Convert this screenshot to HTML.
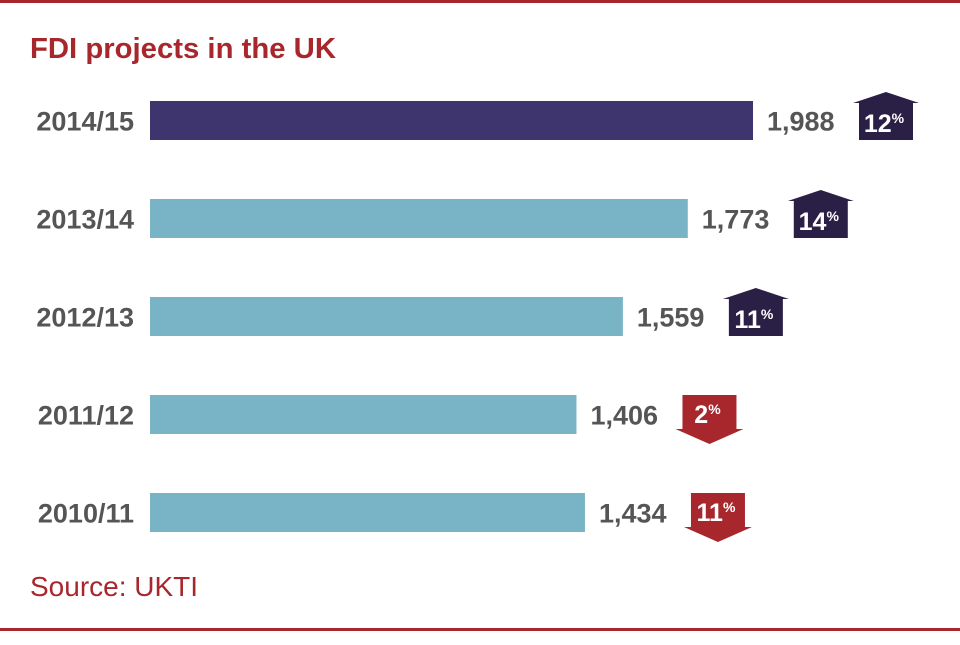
<!DOCTYPE html>
<html><head><meta charset="utf-8"><style>
html,body{margin:0;padding:0;background:#fff;}
body{width:960px;height:640px;overflow:hidden;font-family:"Liberation Sans",sans-serif;}
</style></head><body>
<svg id="chart" width="960" height="640" xmlns="http://www.w3.org/2000/svg">
<rect x="0" y="0" width="960" height="3" fill="#a8272d"/>
<rect x="0" y="628" width="960" height="3" fill="#a8272d"/>
<text x="30" y="58" font-size="29" font-weight="bold" fill="#a8272d" textLength="306" lengthAdjust="spacingAndGlyphs">FDI projects in the UK</text>
<text x="30" y="596" font-size="28" fill="#a8272d">Source: UKTI</text>
<g id="bars"></g>
</svg>
<script>
const categories = ["2014/15","2013/14","2012/13","2011/12","2010/11"];
const values = [1988,1773,1559,1406,1434];
const valueLabels = ["1,988","1,773","1,559","1,406","1,434"];
const changes = [12,14,11,2,11];
const directions = ["up","up","up","down","down"];

const x0 = 150, scale = 603/1988;
const xs = v => x0 + v*scale;
const yTop = i => 101 + i*98;
const barH = 39;
const NS = "http://www.w3.org/2000/svg";
const g = document.getElementById("bars");
function mk(tag, attrs){ const e=document.createElementNS(NS,tag); for(const k in attrs) e.setAttribute(k,attrs[k]); g.appendChild(e); return e; }

categories.forEach((c,i)=>{
  const y = yTop(i), xe = xs(values[i]), cy = y+barH/2;
  const lab = mk("text",{x:134,y:cy+10,"text-anchor":"end","font-size":"27","font-weight":"bold",fill:"#555"});
  lab.textContent = c;
  
  
  const r = mk("rect",{x:x0,y:y,width:xe-x0,height:barH,fill:i===0?"#3f356e":"#78b4c6"});
  
  
  const vt = mk("text",{x:xe+14,y:cy+10,"font-size":"27","font-weight":"bold",fill:"#555"});
  vt.textContent = valueLabels[i];
  
  
  const bx = xe+133;
  let pts, col, ty;
  if(directions[i]==="up"){
    col="#2a1f45";
    pts=[[bx,y-9],[bx+33,y+2],[bx+27,y+2],[bx+27,y+barH],[bx-27,y+barH],[bx-27,y+2],[bx-33,y+2]];
    ty=y+31;
  } else {
    col="#a8272d";
    pts=[[bx-27,y],[bx+27,y],[bx+27,y+34],[bx+34,y+34],[bx,y+49],[bx-34,y+34],[bx-27,y+34]];
    ty=y+28;
  }
  const p = mk("polygon",{points:pts.map(q=>q.join(",")).join(" "),fill:col});
  
  
  const t = mk("text",{x:bx-2,y:ty,"text-anchor":"middle","font-size":"25","font-weight":"bold",fill:"#fff"});
  t.textContent = changes[i];
  const s = document.createElementNS(NS,"tspan");
  s.setAttribute("font-size","14"); s.setAttribute("dy","-9"); s.textContent="%";
  t.appendChild(s);
  
  
});
</script>
</body></html>
